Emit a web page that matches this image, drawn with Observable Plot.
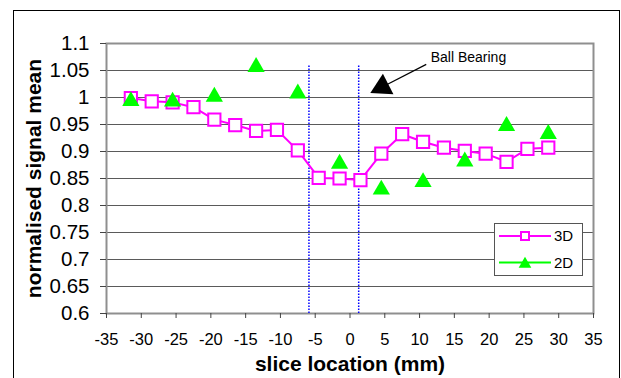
<!DOCTYPE html>
<html>
<head>
<meta charset="utf-8">
<script src="https://cdn.jsdelivr.net/npm/d3@7"></script>
<script src="https://cdn.jsdelivr.net/npm/@observablehq/plot@0.6"></script>
<style>
  html, body { margin: 0; padding: 0; background: #fff; overflow: hidden; }
  #wrap { position: relative; width: 621px; height: 378px; overflow: hidden; font-family: "Liberation Sans", Arial, sans-serif; }
  #outer { position: absolute; left: 13px; top: 10px; width: 607px; height: 420px; border: 1px solid #000; box-sizing: border-box; pointer-events: none; }
</style>
</head>
<body>
<div id="wrap"><div id="outer"></div></div>
<script>
// ---- data ----
const slicePos3D = [-31.5, -28.5, -25.5, -22.5, -19.5, -16.5, -13.5, -10.5, -7.5, -4.5, -1.5, 1.5, 4.5, 7.5, 10.5, 13.5, 16.5, 19.5, 22.5, 25.5, 28.5];
const signal3D   = [0.999, 0.993, 0.991, 0.982, 0.959, 0.949, 0.938, 0.940, 0.902, 0.851, 0.850, 0.847, 0.896, 0.932, 0.918, 0.907, 0.901, 0.896, 0.881, 0.905, 0.907];
const slicePos2D = [-31.5, -25.5, -19.5, -13.5, -7.5, -1.5, 4.5, 10.5, 16.5, 22.5, 28.5];
const signal2D   = [0.998, 0.997, 1.006, 1.061, 1.012, 0.882, 0.834, 0.848, 0.886, 0.952, 0.937];
const seriesNames = ["3D", "2D"];
const bearingEdges = [-5.9, 1.25];
const bearingTop = 1.061;
const xTicks = [-35, -30, -25, -20, -15, -10, -5, 0, 5, 10, 15, 20, 25, 30, 35];
const yTicks = [0.6, 0.65, 0.7, 0.75, 0.8, 0.85, 0.9, 0.95, 1, 1.05, 1.1];
const annotationText = "Ball Bearing";
const annotationTextAt = {x: 11.6, y: 1.0744};
const arrowTail = {x: 10.96, y: 1.0613};
const arrowHead = {x: 4.63, y: 1.0194};
const xLabel = "slice location (mm)";
const yLabel = "normalised signal mean";

const d3rows = slicePos3D.map((x, i) => ({x, y: signal3D[i]}));
const d2rows = slicePos2D.map((x, i) => ({x, y: signal2D[i]}));
const gridVals = yTicks.slice(1, -1);

const FONT = '"Liberation Sans", Arial, sans-serif';
const MAGENTA = "#ff00ff";
const GREEN = "#00ff00";

const chart = Plot.plot({
  width: 621,
  height: 378,
  marginLeft: 106,
  marginRight: 28,
  marginTop: 43,
  marginBottom: 65,
  style: {fontFamily: FONT, background: "transparent", color: "#000", overflow: "visible"},
  x: {domain: [-35, 35], axis: null},
  y: {domain: [0.6, 1.1], axis: null},
  marks: [
    Plot.ruleY(gridVals, {stroke: "#5a5a5a", strokeWidth: 1}),
    Plot.frame({stroke: "#8f8f8f", strokeWidth: 2}),
    Plot.ruleX(bearingEdges, {y1: 0.6, y2: bearingTop, stroke: "#0000ff", strokeWidth: 1.5, strokeDasharray: "1.5 1.5"}),
    Plot.line(d3rows, {x: "x", y: "y", stroke: MAGENTA, strokeWidth: 2}),
    Plot.dot(d3rows, {x: "x", y: "y", symbol: "square", r: 6.9, stroke: MAGENTA, strokeWidth: 2, fill: "white"}),
    Plot.dot(d2rows, {x: "x", y: "y", symbol: "triangle", r: 6.4, fill: GREEN, stroke: "none", dy: 2.5}),
    Plot.link([0], {x1: () => arrowTail.x, y1: () => arrowTail.y, x2: () => arrowHead.x, y2: () => arrowHead.y, stroke: "#000", strokeWidth: 1.2}),
    Plot.dot([0], {x: () => arrowHead.x, y: () => arrowHead.y, symbol: "triangle", r: 8.6, fill: "#000", stroke: "none", rotate: 243}),
    Plot.text([annotationText], {x: () => annotationTextAt.x, y: () => annotationTextAt.y, text: d => d, textAnchor: "start", lineAnchor: "middle", fontSize: 14, fill: "#000"}),
    Plot.axisX(xTicks, {tickSize: 5, tickPadding: 15, tickFormat: d => String(d), fontSize: 16.5, stroke: "#444", label: null}),
    Plot.axisY(yTicks, {tickSize: 6, tickPadding: 11, tickFormat: d => String(+d.toFixed(2)), fontSize: 20.5, stroke: "#444", label: null}),
    Plot.text([xLabel], {frameAnchor: "bottom", textAnchor: "middle", lineAnchor: "middle", dy: 50.3, text: d => d, fontSize: 21, fontWeight: "bold", fill: "#000"}),
    Plot.text([yLabel], {frameAnchor: "left", textAnchor: "middle", lineAnchor: "middle", dx: -72.4, rotate: -90, text: d => d, fontSize: 21, fontWeight: "bold", fill: "#000"})
  ]
});

document.getElementById("wrap").insertBefore(chart, document.getElementById("outer"));

// ---- legend ----
const svg = d3.select(chart);
const lg = svg.append("g").style("font-family", FONT).style("font-size", "15px");
lg.append("rect").attr("x", 494.5).attr("y", 223.5).attr("width", 88).attr("height", 52)
  .attr("fill", "white").attr("stroke", "#555").attr("stroke-width", 1);
const rowsY = [236, 262.5];
seriesNames.forEach((name, i) => {
  const y = rowsY[i];
  const col = i === 0 ? MAGENTA : GREEN;
  lg.append("line").attr("x1", 499).attr("x2", 551).attr("y1", y).attr("y2", y)
    .attr("stroke", col).attr("stroke-width", 2);
  if (i === 0) {
    lg.append("path").attr("d", d3.symbol(d3.symbolSquare, 64)()).attr("transform", `translate(525,${y})`)
      .attr("fill", "white").attr("stroke", col).attr("stroke-width", 2);
  } else {
    lg.append("path").attr("d", d3.symbol(d3.symbolTriangle, 70)()).attr("transform", `translate(525,${y + 1.5})`)
      .attr("fill", col);
  }
  lg.append("text").attr("x", 554).attr("y", y).attr("dy", "0.35em")
    .attr("text-anchor", "start").style("font-size", "15px").attr("fill", "#000").text(name);
});
</script>
</body>
</html>
